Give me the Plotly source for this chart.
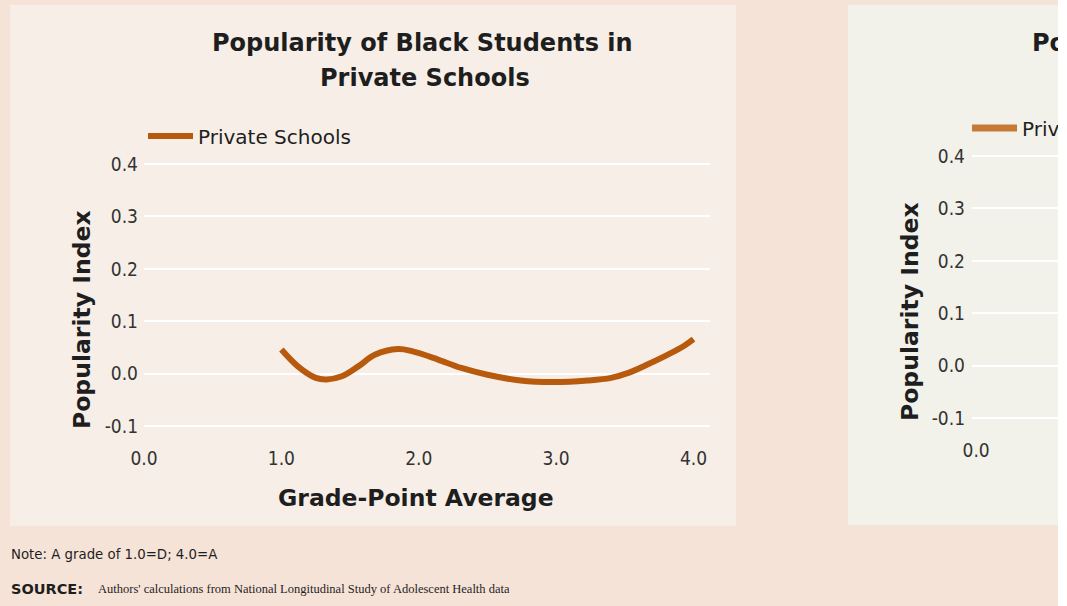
import plotly.graph_objects as go

W, H = 1058, 606

# Data
gpa = [1.0, 1.12, 1.25, 1.33, 1.44, 1.56, 1.68, 1.85, 1.95, 2.14, 2.31, 2.5, 2.74, 2.98, 3.23, 3.4, 3.52, 3.66, 3.81, 3.93, 4.0]
popularity = [0.046, 0.014, -0.008, -0.011, -0.005, 0.014, 0.036, 0.047, 0.043, 0.027, 0.011, -0.002, -0.013, -0.016, -0.013, -0.008, 0.001, 0.017, 0.036, 0.053, 0.066]
series_name = "Private Schools"
y_ticks = [-0.1, 0.0, 0.1, 0.2, 0.3, 0.4]
y_tick_labels = ["-0.1", "0.0", "0.1", "0.2", "0.3", "0.4"]
x_ticks = [0.0, 1.0, 2.0, 3.0, 4.0]
x_tick_labels = ["0.0", "1.0", "2.0", "3.0", "4.0"]

PINK = "rgb(246,227,216)"
PANEL1 = "rgb(247,239,231)"
PANEL2 = "rgb(243,242,234)"
LINE1 = "#b85a0e"
LINE2 = "#c67a36"
TXT = "#1e1e1e"
TICK = "#333333"
BOLD = "DejaVu Sans"
TICKFONT = "DejaVu Sans Condensed"


def px(x):
    return x / W


def py(y):
    return 1 - y / H


fig = go.Figure()
fig.add_trace(go.Scatter(
    x=gpa, y=popularity, mode="lines", name=series_name,
    line=dict(color=LINE1, width=6, shape="spline", smoothing=1.0),
    xaxis="x", yaxis="y", legend="legend", showlegend=True,
))
# second (clipped) panel: only its legend entry is visible in the picture
fig.add_trace(go.Scatter(
    x=[None], y=[None], mode="lines", name=series_name,
    line=dict(color=LINE2, width=7),
    xaxis="x2", yaxis="y2", legend="legend2", showlegend=True,
))

axis_common = dict(showline=False, zeroline=False, ticks="",
                   tickfont=dict(family=TICKFONT, size=19, color=TICK))

fig.update_layout(
    width=W, height=H,
    margin=dict(l=0, r=0, t=0, b=0, autoexpand=False),
    paper_bgcolor=PINK, plot_bgcolor="rgba(0,0,0,0)",
    xaxis=dict(domain=[px(144), px(710)], range=[0, 4.12],
               tickvals=x_ticks, ticktext=x_tick_labels, showgrid=False,
               anchor="y", **axis_common),
    yaxis=dict(domain=[py(445), py(163)], range=[-0.136, 0.402],
               tickvals=y_ticks, ticktext=y_tick_labels, showgrid=True,
               gridcolor="white", gridwidth=2, anchor="x", ticklabelstandoff=5,
               **axis_common),
    xaxis2=dict(domain=[px(972), 1.0], range=[-0.03, 0.59],
                tickvals=x_ticks, ticktext=x_tick_labels, showgrid=False,
                anchor="y2", **axis_common),
    yaxis2=dict(domain=[py(437), py(155)], range=[-0.136, 0.402],
                tickvals=y_ticks, ticktext=y_tick_labels, showgrid=True,
                gridcolor="white", gridwidth=2, anchor="x2", ticklabelstandoff=6,
                **axis_common),
    legend=dict(x=px(143), y=py(136), xanchor="left", yanchor="middle",
                bgcolor="rgba(0,0,0,0)", font=dict(family="DejaVu Sans", size=20, color=TXT),
                itemwidth=45, tracegroupgap=0),
    legend2=dict(x=px(967), y=py(128), xanchor="left", yanchor="middle",
                 bgcolor="rgba(0,0,0,0)", font=dict(family="DejaVu Sans", size=20, color=TXT),
                 itemwidth=45),
    shapes=[
        dict(type="rect", xref="paper", yref="paper", x0=px(10), x1=px(736),
             y0=py(526), y1=py(5), fillcolor=PANEL1, line=dict(width=0), layer="below"),
        dict(type="rect", xref="paper", yref="paper", x0=px(848), x1=1.0,
             y0=py(525), y1=py(5), fillcolor=PANEL2, line=dict(width=0), layer="below"),
    ],
    annotations=[
        dict(text="<b>Popularity of Black Students in</b>",
             x=px(422), y=py(43), xref="paper", yref="paper", showarrow=False,
             xanchor="center", yanchor="middle",
             font=dict(family=BOLD, size=24, color=TXT)),
        dict(text="<b>Private Schools</b>",
             x=px(425), y=py(78), xref="paper", yref="paper", showarrow=False,
             xanchor="center", yanchor="middle",
             font=dict(family=BOLD, size=24, color=TXT)),
        dict(text="<b>Popularity Index</b>", textangle=-90,
             x=px(82), y=py(320), xref="paper", yref="paper", showarrow=False,
             xanchor="center", yanchor="middle",
             font=dict(family=BOLD, size=23.5, color=TXT)),
        dict(text="<b>Grade-Point Average</b>",
             x=px(416), y=py(498), xref="paper", yref="paper", showarrow=False,
             xanchor="center", yanchor="middle",
             font=dict(family=BOLD, size=23.5, color=TXT)),
        dict(text="<b>Popularity of Black Students in</b>",
             x=px(1030), y=py(43), xref="paper", yref="paper", showarrow=False,
             xanchor="left", yanchor="middle",
             font=dict(family=BOLD, size=24, color=TXT)),
        dict(text="<b>Popularity Index</b>", textangle=-90,
             x=px(910), y=py(312), xref="paper", yref="paper", showarrow=False,
             xanchor="center", yanchor="middle",
             font=dict(family=BOLD, size=23.5, color=TXT)),
        dict(text="Note: A grade of 1.0=D; 4.0=A",
             x=px(9), y=py(553), xref="paper", yref="paper", showarrow=False,
             xanchor="left", yanchor="middle",
             font=dict(family="DejaVu Sans Condensed", size=14.8, color=TXT)),
        dict(text="<b>SOURCE:</b>",
             x=px(9), y=py(589), xref="paper", yref="paper", showarrow=False,
             xanchor="left", yanchor="middle",
             font=dict(family=BOLD, size=14.5, color=TXT)),
        dict(text="Authors' calculations from National Longitudinal Study of Adolescent Health data",
             x=px(96), y=py(589), xref="paper", yref="paper", showarrow=False,
             xanchor="left", yanchor="middle",
             font=dict(family="Liberation Serif", size=12.5, color=TXT)),
    ],
)

fig.write_html("out.html")
